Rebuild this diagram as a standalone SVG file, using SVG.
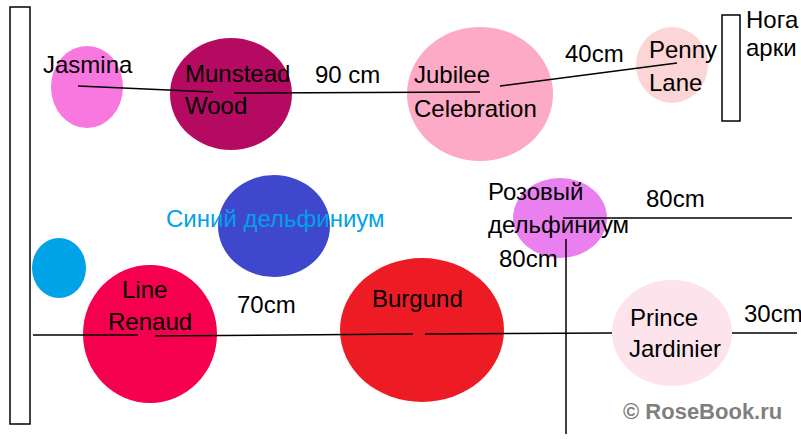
<svg xmlns="http://www.w3.org/2000/svg" width="801" height="439" viewBox="0 0 801 439">
<style>
text{font-family:"Liberation Sans",Arial,sans-serif;font-size:24px;fill:#000}
.post{fill:#fff;stroke:#000;stroke-width:1.5}
.ln{stroke:#000;stroke-width:1.5;fill:none}
</style>
<rect width="801" height="439" fill="#fff"/>
<g id="post-left"><rect class="post" x="10" y="7" width="20" height="417"/></g>
<g id="post-right"><rect class="post" x="722" y="15" width="18" height="106"/><text x="746" y="28">Нога</text><text x="746" y="56">арки</text></g>
<g id="jasmina"><ellipse cx="87" cy="87" rx="36" ry="41" fill="#f878e0"/><text x="43" y="73">Jasmina</text></g>
<g id="munstead"><ellipse cx="231" cy="94" rx="61" ry="56" fill="#b50a62"/><text x="185" y="82">Munstead</text><text x="185" y="114">Wood</text></g>
<g id="jubilee"><ellipse cx="480" cy="94" rx="73" ry="67" fill="#fcaac6"/><text x="414" y="83">Jubilee</text><text x="414" y="117">Celebration</text></g>
<g id="penny"><ellipse cx="672" cy="65" rx="36" ry="38" fill="#fcd6d6"/><text x="649" y="58">Penny</text><text x="649" y="91">Lane</text></g>
<g id="blue-delph"><ellipse cx="274" cy="226" rx="56" ry="51" fill="#3f48cc"/><text x="166" y="227" style="fill:#00a2e8">Синий дельфиниум</text></g>
<g id="blue-small"><ellipse cx="59" cy="268" rx="27" ry="30" fill="#00a2e8"/></g>
<g id="line-renaud"><ellipse cx="150" cy="334" rx="67" ry="69" fill="#f5004f"/><text x="122" y="298">Line</text><text x="108" y="330">Renaud</text></g>
<g id="burgund"><ellipse cx="422" cy="330" rx="82" ry="72" fill="#ed1c24"/><text x="372" y="307">Burgund</text></g>
<g id="pink-delph"><ellipse cx="560" cy="218" rx="47" ry="40" fill="#ea80f0"/><text x="488" y="200">Розовый</text><text x="488" y="233">дельфиниум</text></g>
<g id="prince"><ellipse cx="672" cy="333" rx="60" ry="53" fill="#fde3ec"/><text x="630" y="326">Prince</text><text x="629" y="357">Jardinier</text></g>
<g id="connectors">
<line class="ln" x1="78" y1="86" x2="213" y2="92"/>
<line class="ln" x1="234" y1="93" x2="480" y2="92"/>
<line class="ln" x1="500" y1="86" x2="677" y2="63"/>
<line class="ln" x1="33" y1="335" x2="138" y2="335"/>
<line class="ln" x1="155" y1="336" x2="413" y2="334"/>
<line class="ln" x1="425" y1="334" x2="612" y2="333"/>
<line class="ln" x1="732" y1="333" x2="797" y2="333"/>
<line class="ln" x1="563" y1="218" x2="792" y2="218"/>
<line class="ln" x1="566" y1="239" x2="566" y2="434"/>
</g>
<g id="labels">
<text x="315" y="83">90 cm</text>
<text x="565" y="62">40cm</text>
<text x="237" y="313">70cm</text>
<text x="646" y="207">80cm</text>
<text x="499" y="267">80cm</text>
<text x="744" y="322">30cm</text>
<text x="623" y="419" style="fill:#7f7f7f;font-weight:bold;font-size:22px">© RoseBook.ru</text>
</g>
</svg>
